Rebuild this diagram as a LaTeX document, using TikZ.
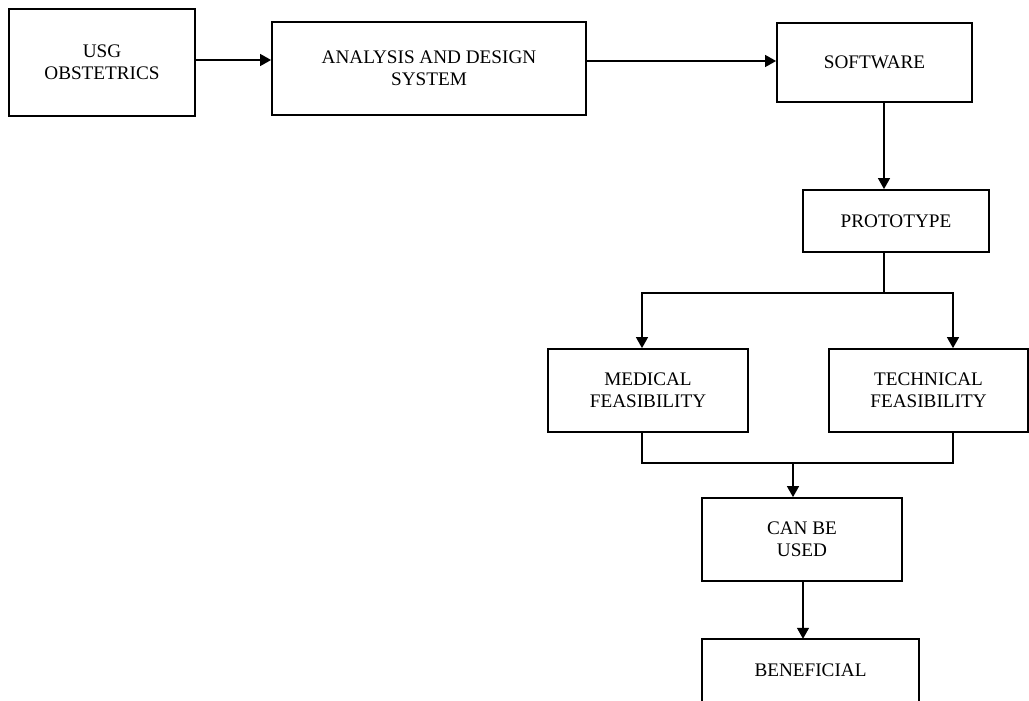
\documentclass[tikz,border=0pt]{standalone}
\usepackage{fontspec}
\setmainfont{Liberation Serif}
\usetikzlibrary{arrows.meta,calc}
\begin{document}
\begin{tikzpicture}[x=1pt,y=-1pt,
  box/.style={draw, line width=1.8pt, inner sep=0pt, align=center,
    font=\fontsize{19.2}{22}\selectfont},
  label/.style={inner sep=0pt, align=center, font=\fontsize{19.2}{22}\selectfont},
  conn/.style={line width=1.3pt},
  arr/.style={conn, -{Triangle[length=11pt,width=12pt]}}]
\useasboundingbox (0,0) rectangle (1029,701);
\clip (0,0) rectangle (1029,701);

% process boxes
\node[box, minimum width=186, minimum height=107] (usg) at (102,62.5) {USG\\OBSTETRICS};
\node[box, minimum width=314, minimum height=93] (ads) at (429,68.5) {ANALYSIS AND DESIGN\\SYSTEM};
\node[box, minimum width=195, minimum height=79] (soft) at (874.5,62.5) {SOFTWARE};
\node[box, minimum width=186, minimum height=62] (proto) at (896,221) {PROTOTYPE};
\node[box, minimum width=200, minimum height=83] (med) at (648,390.5) {MEDICAL\\FEASIBILITY};
\node[box, minimum width=199, minimum height=83] (tech) at (928.5,390.5) {TECHNICAL\\FEASIBILITY};
\node[box, minimum width=200, minimum height=83] (can) at (802,539.5) {CAN BE\\USED};
\node[label, minimum width=217, minimum height=62] (ben) at (810.5,670) {BENEFICIAL};
\draw[line width=1.8pt] ([yshift=-30pt]ben.south west) -- (ben.north west)
  -- (ben.north east) -- ([yshift=-30pt]ben.south east);

% guide coordinates for the vertical runs
\coordinate (vsoft) at (884,0);
\coordinate (split) at (884,293);
\coordinate (vmed) at (642,0);
\coordinate (vtech) at (953,0);
\coordinate (merge) at (0,463);
\coordinate (vcan) at (793,0);
\coordinate (vben) at (803,0);

% top row
\draw[arr] ([yshift=2.5pt]usg.east) -- ([yshift=2.5pt]usg.east -| ads.west);
\draw[arr] ([yshift=1.5pt]soft.west -| ads.east) -- ([yshift=1.5pt]soft.west);
\draw[arr] (soft.south -| vsoft) -- (proto.north -| vsoft);

% split into the two feasibility checks
\draw[conn] (proto.south -| vsoft) -- (split);
\draw[arr] (split) -| (med.north -| vmed);
\draw[arr] (split) -| (tech.north -| vtech);

% merge of the two checks
\draw[conn] (med.south -| vmed) |- (merge -| vtech) -- (tech.south -| vtech);
\draw[arr] (merge -| vcan) -- (can.north -| vcan);
\draw[arr] (can.south -| vben) -- (ben.north -| vben);
\end{tikzpicture}
\end{document}
